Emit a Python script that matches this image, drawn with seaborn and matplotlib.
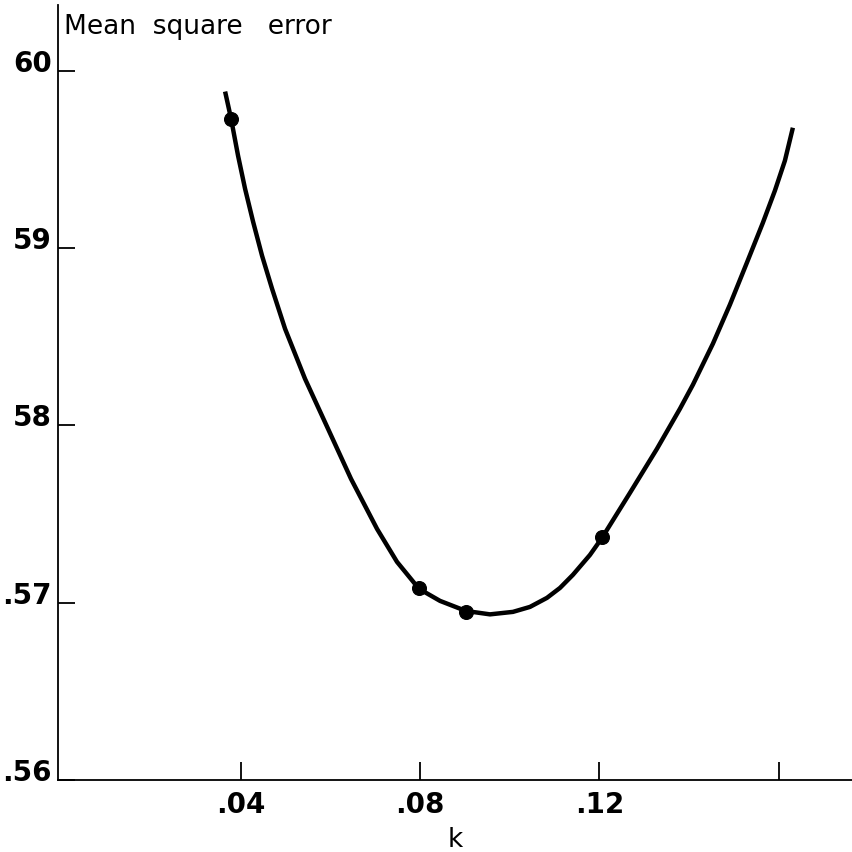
import matplotlib
matplotlib.use('Agg')
import matplotlib.pyplot as plt
import seaborn as sns
import pandas as pd

# curve (k, mean square error)
curve_k = [0.03655, 0.03788, 0.03944, 0.04100, 0.04279, 0.04479, 0.04702, 0.04992,
           0.05437, 0.05950, 0.06462, 0.07042, 0.07487, 0.07978, 0.08446, 0.09025,
           0.09560, 0.10072, 0.10451, 0.10830, 0.11120, 0.11409, 0.11788, 0.12056,
           0.12680, 0.13281, 0.13794, 0.14084, 0.14529, 0.14908, 0.15287, 0.15643,
           0.15911, 0.16134, 0.16312]
curve_mse = [0.59882, 0.59729, 0.59520, 0.59334, 0.59148, 0.58956, 0.58770, 0.58544,
             0.58262, 0.57980, 0.57698, 0.57416, 0.57230, 0.57078, 0.57010, 0.56953,
             0.56934, 0.56948, 0.56976, 0.57027, 0.57083, 0.57157, 0.57269, 0.57365,
             0.57619, 0.57867, 0.58093, 0.58229, 0.58460, 0.58680, 0.58917, 0.59142,
             0.59323, 0.59492, 0.59678]

# observed points
point_k = [0.0379, 0.0798, 0.0902, 0.1206]
point_mse = [0.5973, 0.5708, 0.5695, 0.5737]

xticks = [0.04, 0.08, 0.12, 0.16]
xtick_labels = ['.04', '.08', '.12', '']
yticks = [0.56, 0.57, 0.58, 0.59, 0.60]
ytick_labels = ['.56', '.57', '58', '59', '60']

sns.set_style('ticks')
plt.rcParams['font.family'] = ['DejaVu Sans']
for key in ['text.color', 'xtick.color', 'ytick.color', 'axes.edgecolor', 'axes.labelcolor']:
    plt.rcParams[key] = 'black'

fig = plt.figure(figsize=(8.52, 8.53), dpi=100)
ax = fig.add_axes([58 / 852, 1 - 781 / 853, 1 - 58 / 852, (781 - 6) / 853])

curve = pd.DataFrame({'k': curve_k, 'mse': curve_mse})
pts = pd.DataFrame({'k': point_k, 'mse': point_mse})
sns.lineplot(data=curve, x='k', y='mse', sort=False, color='black', lw=3.2,
             solid_joinstyle='round', solid_capstyle='butt', ax=ax)
sns.scatterplot(data=pts, x='k', y='mse', color='black', s=100, edgecolor='black', ax=ax, zorder=3)

ax.set_xlim(-0.0007, 0.1763)
ax.set_ylim(0.56, 0.6037)
ax.set_xticks(xticks, xtick_labels)
ax.set_yticks(yticks, ytick_labels)
ax.tick_params(axis='x', direction='in', length=13, width=1.3, pad=7, labelsize=20)
ax.tick_params(axis='y', direction='in', length=12.5, width=1.3, pad=4.5, labelsize=20)
for lab in ax.get_xticklabels() + ax.get_yticklabels():
    lab.set_fontweight('bold')
for lab in ax.get_yticklabels():
    lab.set_verticalalignment('baseline')

for s in ['top', 'right']:
    ax.spines[s].set_visible(False)
for s in ['left', 'bottom']:
    ax.spines[s].set_linewidth(1.3)

ax.set_xlabel('k', fontsize=19, labelpad=6)
ax.set_ylabel('')
ax.text(0.0076, 0.9639, 'Mean  square   error', transform=ax.transAxes, fontsize=19,
        ha='left', va='baseline')

fig.savefig('out.png', dpi=100)
